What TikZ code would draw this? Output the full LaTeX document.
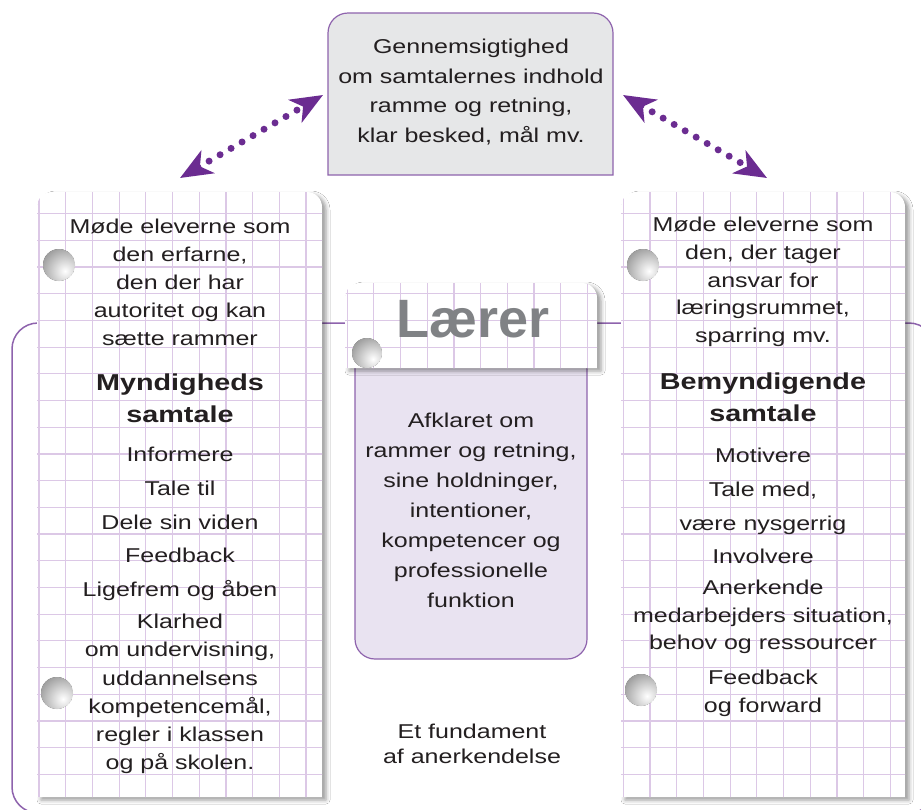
\documentclass[tikz,border=0pt]{standalone}
\usepackage{fontspec}
\setmainfont{Liberation Sans}[FakeStretch=1.25]
\newfontfamily\logofont{Liberation Sans}
\usetikzlibrary{arrows.meta}
\usetikzlibrary{shadows.blur}
\definecolor{lilla}{HTML}{6B2C91}
\definecolor{ramme}{HTML}{8E63AD}
\definecolor{gitter}{HTML}{DCC8E6}
\definecolor{lavendel}{HTML}{E9E3F1}
\definecolor{graaboks}{HTML}{E6E7E8}
\definecolor{tekstfarve}{HTML}{231F20}
\definecolor{logograa}{HTML}{808285}
% kort med runde hjoerner foroven / forneden
\newcommand{\topform}[5]{(#1,#4) -- (#1,#2+#5) arc[start angle=180,end angle=90,radius=#5pt] -- (#3-#5,#2) arc[start angle=90,end angle=0,radius=#5pt] -- (#3,#4) -- cycle}
\newcommand{\bundform}[5]{(#1,#2) -- (#1,#4-#5) arc[start angle=180,end angle=270,radius=#5pt] -- (#3-#5,#4) arc[start angle=270,end angle=360,radius=#5pt] -- (#3,#2) -- cycle}
% hul i kortet
\newcommand{\hul}[3]{%
\begin{scope}
\clip (#1,#2) circle (#3pt);
\fill[gray!70!black] (#1,#2) circle (#3pt);
\shade[inner color=white, outer color=gray!70!black] (#1+6,#2+6) circle (2*#3pt+10pt);
\end{scope}}

\begin{document}
\begin{tikzpicture}[x=1pt,y=-1pt,
  tekst/.style={inner sep=0pt, align=center, text=tekstfarve, font=\fontsize{20}{#1}\selectfont},
  tekst/.default=28,
  overskrift/.style={inner sep=0pt, align=center, text=tekstfarve, font=\fontsize{23}{32}\selectfont\bfseries},
  gitterlinje/.style={draw=gitter, line width=1.2pt, step=26.7pt},
  kortskygge/.style={blur shadow={shadow xshift=4pt, shadow yshift=-3pt, shadow blur radius=4pt, shadow opacity=40}},
  prikpil/.style={draw=lilla, line width=7pt, line cap=round, dash pattern=on 0pt off 12.7pt,
    {Stealth[length=32pt,width=26pt,inset=9pt]}-{Stealth[length=32pt,width=26pt,inset=9pt]}}]
\useasboundingbox (0,0) rectangle (921,809);
\clip (0,0) rectangle (921,809);
\fill[white] (0,0) rectangle (921,809);
% fundament
\draw[ramme, line width=1.5pt, rounded corners=26pt] (12,323) rectangle (935,813);
\node[tekst=25] (fundament) at (472,744) {Et fundament\\af anerkendelse};
% gennemsigtighed
\path[fill=graaboks, draw=ramme, line width=1.2pt] \topform{328}{13}{613}{175}{20};
\node[tekst=29.6] (indhold) at (471,92) {Gennemsigtighed\\om samtalernes indhold\\ramme og retning,\\klar besked, mål mv.};
\coordinate (vop) at (323,95);
\coordinate (vned) at (180,178);
\coordinate (hop) at (623,95);
\coordinate (hned) at (767,178);
\draw[prikpil] (vned) -- (vop);
\draw[prikpil] (hop) -- (hned);
% laerer
\path[fill=lavendel, draw=ramme, line width=1.2pt] \bundform{355}{360}{587}{659}{20};
\node[tekst=30] (afklaret) at (471,510) {Afklaret om\\rammer og retning,\\sine holdninger,\\intentioner,\\kompetencer og\\professionelle\\funktion};
\path[fill=white, kortskygge] \topform{345}{283}{597}{368}{15};
\begin{scope}
\clip \topform{345}{283}{597}{368}{15};
\draw[gitterlinje] (330,270) grid (610,380);
\end{scope}
\hul{367}{353}{15}
\node[anchor=base, inner sep=0pt, text=logograa, font=\logofont\bfseries\fontsize{54}{54}\selectfont] (laerer) at (473,337) {Lærer};
% myndigheds samtale
\path[fill=white, kortskygge] \topform{37}{192}{322}{797}{15};
\begin{scope}
\clip \topform{37}{192}{322}{797}{15};
\draw[gitterlinje, shift={(12.3,0)}] (0,170) grid (340,800);
\end{scope}
\hul{59}{265}{16}
\hul{57}{693}{16}
\node[tekst=28] (myndA) at (180,282) {Møde eleverne som\\den erfarne,\\den der har\\autoritet og kan\\sætte rammer};
\node[overskrift] (myndtitel) at (180,398) {Myndigheds\\samtale};
\node[tekst=33.75] (myndB) at (180,524) {Informere\\Tale til\\Dele sin viden\\Feedback\\Ligefrem og åben};
\node[tekst=28.2] (myndC) at (180,694) {Klarhed\\om undervisning,\\uddannelsens\\kompetencemål,\\regler i klassen\\og på skolen.};
% bemyndigende samtale
\path[fill=white, kortskygge] \topform{621}{192}{905}{797}{15};
\begin{scope}
\clip \topform{621}{192}{905}{797}{15};
\draw[gitterlinje, shift={(9.2,0)}] (600,170) grid (921,800);
\end{scope}
\hul{643}{265}{16}
\hul{641}{690}{16}
\node[tekst=27.8] (bemA) at (763,282) {Møde eleverne som\\den, der tager\\ansvar for\\læringsrummet,\\sparring mv.};
\node[overskrift] (bemtitel) at (763,397) {Bemyndigende\\samtale};
\node[tekst=33.7] (bemB) at (763,506) {Motivere\\Tale med,\\være nysgerrig\\Involvere};
\node[tekst=27.5] (bemC) at (763,617) {Anerkende\\medarbejders situation,\\behov og ressourcer};
\node[tekst=28] (bemD) at (763,693) {Feedback\\og forward};
\end{tikzpicture}
\end{document}
